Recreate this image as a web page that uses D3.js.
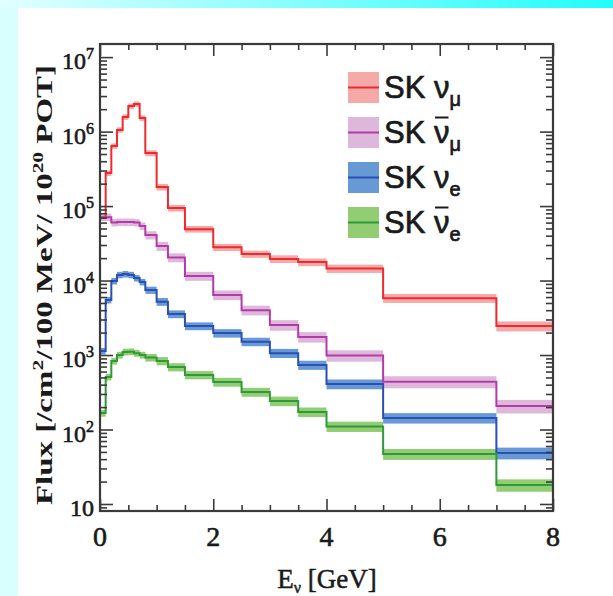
<!DOCTYPE html>
<html>
<head>
<meta charset="utf-8">
<script src="https://cdn.jsdelivr.net/npm/d3@7"></script>
<style>
  html, body { margin: 0; padding: 0; background: #ffffff; }
  svg { display: block; }
</style>
</head>
<body>
<svg id="chart" width="613" height="596"></svg>
<script>
// Bin edges of the SK flux prediction (GeV)
const binEdges = [0, 0.1, 0.2, 0.3, 0.4, 0.5, 0.6, 0.7, 0.8, 1.0, 1.2, 1.5, 2.0, 2.5, 3.0, 3.5, 4.0, 5.0, 7.0, 8.0];

// Flux per bin [/cm^2/100 MeV/10^20 POT]
const numu = [7.0e4, 2.77e5, 6.4e5, 1.05e6, 1.57e6, 2.2e6, 2.34e6, 1.52e6, 5.14e5, 1.8e5, 9.4e4, 4.9e4, 2.8e4, 2.27e4, 1.95e4, 1.77e4, 1.45e4, 5.8e3, 2.45e3];
const numubar = [7.1e4, 7.1e4, 6.0e4, 6.1e4, 6.1e4, 6.1e4, 6.0e4, 5.4e4, 4.08e4, 2.9e4, 2.04e4, 1.15e4, 6.4e3, 4.0e3, 2.53e3, 1.75e3, 985, 438, 207];
const nue = [1.13e3, 5.47e3, 9.85e3, 1.19e4, 1.22e4, 1.19e4, 1.08e4, 9.55e3, 7.45e3, 5.2e3, 3.55e3, 2.45e3, 1.97e3, 1.51e3, 1.06e3, 735, 408, 143, 48.4];
const nuebar = [166, 507, 832, 1000, 1100, 1110, 1060, 1000, 925, 832, 690, 540, 435, 319, 241, 172, 110, 46.9, 18];

// Fractional flux uncertainty per bin
const fracErr = [0.10, 0.10, 0.10, 0.10, 0.10, 0.10, 0.10, 0.10, 0.11, 0.12, 0.12, 0.12, 0.13, 0.13, 0.14, 0.14, 0.15, 0.16, 0.18];

const seriesNames = ["numu", "numubar", "nue", "nuebar"];
const seriesValues = [numu, numubar, nue, nuebar];
const errScale = [0.85, 1.15, 1.0, 1.05];
const lineColors = ["#ee2a2e", "#b43aaa", "#2b4fb2", "#2e9a3c"];
const bandColors = ["#f39a9a", "#d7abd3", "#4c88cc", "#7fc45c"];
const legendFlavour = ["μ", "μ", "e", "e"];
const legendBar = [false, true, false, true];

const xTicksMajor = [0, 2, 4, 6, 8];
const yExponents = [1, 2, 3, 4, 5, 6, 7];

const svg = d3.select("#chart");
const W = 613, H = 596;

// Page backdrop: pale cyan margin strips
const defs = svg.append("defs");
const grad = defs.append("linearGradient").attr("id", "topGrad")
  .attr("x1", "0%").attr("x2", "100%").attr("y1", "0%").attr("y2", "0%");
grad.append("stop").attr("offset", "0%").attr("stop-color", "#e2ffff");
grad.append("stop").attr("offset", "100%").attr("stop-color", "#22fcfc");
svg.append("rect").attr("x", 0).attr("y", 0).attr("width", W).attr("height", H).attr("fill", "#ffffff");
svg.append("rect").attr("x", 0).attr("y", 0).attr("width", 18).attr("height", H).attr("fill", "#d8fefe");
svg.append("rect").attr("x", 0).attr("y", 0).attr("width", W).attr("height", 8).attr("fill", "url(#topGrad)");

const plot = { left: 100, right: 553, top: 44, bottom: 511 };
const x = d3.scaleLinear().domain([0, 8]).range([plot.left, plot.right]);
const y = d3.scaleLog().domain([8.05, 1.5e7]).range([plot.bottom, plot.top]);

defs.append("clipPath").attr("id", "plotClip").append("rect")
  .attr("x", plot.left).attr("y", plot.top)
  .attr("width", plot.right - plot.left).attr("height", plot.bottom - plot.top);

const g = svg.append("g").attr("clip-path", "url(#plotClip)");

// Uncertainty bands and step histograms
seriesValues.forEach((vals, si) => {
  const bins = vals.map((v, i) => ({ x0: binEdges[i], x1: binEdges[i + 1], v, e: fracErr[i] * errScale[si] }));
  g.append("g").selectAll("rect").data(bins).join("rect")
    .attr("x", d => x(d.x0))
    .attr("width", d => x(d.x1) - x(d.x0))
    .attr("y", d => y(d.v * (1 + d.e)))
    .attr("height", d => y(d.v * (1 - d.e)) - y(d.v * (1 + d.e)))
    .attr("fill", bandColors[si])
    .attr("opacity", 0.85);
});
seriesValues.forEach((vals, si) => {
  const pts = vals.map((v, i) => [binEdges[i], v]);
  pts.push([binEdges[binEdges.length - 1], vals[vals.length - 1]]);
  const line = d3.line().x(d => x(d[0])).y(d => y(d[1])).curve(d3.curveStepAfter);
  g.append("path").attr("d", line(pts))
    .attr("fill", "none").attr("stroke", lineColors[si]).attr("stroke-width", 2);
});

// Axes frame and ticks
const axisColor = "#3a3a3a";
const axes = svg.append("g").attr("stroke", axisColor).attr("fill", "none");

const yMinor = [];
for (let e = 0; e <= 7; e++) {
  for (let m = 2; m <= 9; m++) {
    const v = m * Math.pow(10, e);
    if (v >= y.domain()[0] && v <= y.domain()[1]) yMinor.push(v);
  }
}
const yMajor = yExponents.map(e => Math.pow(10, e));
const xMinor = d3.range(0.5, 8, 0.5).filter(v => xTicksMajor.indexOf(v) < 0);

function tickAxis(axisGen, transform) {
  const a = svg.append("g").attr("transform", transform).call(axisGen);
  a.selectAll(".domain").remove();
  a.selectAll("text").remove();
  a.selectAll("line").attr("stroke", axisColor).attr("stroke-width", 1.6);
  return a;
}
tickAxis(d3.axisLeft(y).tickValues(yMajor).tickSize(-13), `translate(${plot.left},0)`);
tickAxis(d3.axisLeft(y).tickValues(yMinor).tickSize(-7), `translate(${plot.left},0)`);
tickAxis(d3.axisRight(y).tickValues(yMajor).tickSize(-13), `translate(${plot.right},0)`);
tickAxis(d3.axisRight(y).tickValues(yMinor).tickSize(-7), `translate(${plot.right},0)`);
tickAxis(d3.axisBottom(x).tickValues(xTicksMajor).tickSize(-12), `translate(0,${plot.bottom})`);
tickAxis(d3.axisBottom(x).tickValues(xMinor).tickSize(-6), `translate(0,${plot.bottom})`);
tickAxis(d3.axisTop(x).tickValues(xTicksMajor).tickSize(-12), `translate(0,${plot.top})`);
tickAxis(d3.axisTop(x).tickValues(xMinor).tickSize(-6), `translate(0,${plot.top})`);

axes.append("rect")
  .attr("x", plot.left).attr("y", plot.top)
  .attr("width", plot.right - plot.left).attr("height", plot.bottom - plot.top)
  .attr("stroke-width", 2.2);

// Tick labels
const serif = "'Liberation Serif', 'Times New Roman', serif";
const ink = "#1a1a1a";
const yLab = svg.append("g").attr("font-family", serif).attr("fill", ink)
  .attr("stroke", ink).attr("stroke-width", 0.6);
yExponents.forEach(e => {
  const t = yLab.append("text")
    .attr("x", 94).attr("y", y(Math.pow(10, e)) + 12)
    .attr("text-anchor", "end").attr("font-size", 24);
  if (e === 1) {
    t.text("10");
  } else {
    t.append("tspan").text("10");
    t.append("tspan").attr("dy", -10).attr("font-size", 16).text(String(e));
  }
});

svg.append("g").attr("font-family", serif).attr("fill", ink)
  .attr("stroke", ink).attr("stroke-width", 0.6)
  .selectAll("text").data(xTicksMajor).join("text")
  .attr("x", d => x(d)).attr("y", 546)
  .attr("text-anchor", "middle").attr("font-size", 28)
  .text(d => String(d));

// Axis titles
const xt = svg.append("text").attr("x", 327).attr("y", 588)
  .attr("text-anchor", "middle").attr("font-family", serif)
  .attr("font-size", 27).attr("fill", ink).attr("stroke", ink).attr("stroke-width", 0.5);
xt.append("tspan").text("E");
xt.append("tspan").attr("dy", 5).attr("font-size", 16).text("ν");
xt.append("tspan").attr("dy", -5).text(" [GeV]");

const yt = svg.append("text")
  .attr("transform", "translate(52,285) rotate(-90)")
  .attr("text-anchor", "middle").attr("font-family", serif)
  .attr("font-weight", "bold").attr("font-size", 23).attr("fill", ink)
  .attr("textLength", 440).attr("lengthAdjust", "spacingAndGlyphs");
yt.append("tspan").text("Flux [/cm");
yt.append("tspan").attr("dy", -9).attr("font-size", 15).text("2");
yt.append("tspan").attr("dy", 9).text("/100 MeV/ 10");
yt.append("tspan").attr("dy", -9).attr("font-size", 15).text("20");
yt.append("tspan").attr("dy", 9).text(" POT]");

// Legend
const sans = "'Liberation Sans', Arial, Helvetica, sans-serif";
const legend = svg.append("g");
seriesNames.forEach((name, i) => {
  const cy = 87.5 + i * 45;
  legend.append("rect").attr("x", 348).attr("y", cy - 15.5).attr("width", 31).attr("height", 31)
    .attr("fill", bandColors[i]).attr("opacity", 0.85);
  legend.append("line").attr("x1", 348).attr("x2", 379).attr("y1", cy).attr("y2", cy)
    .attr("stroke", lineColors[i]).attr("stroke-width", 2);
  const t = legend.append("text").attr("x", 384).attr("y", cy + 10)
    .attr("font-family", sans).attr("font-size", 31).attr("fill", ink)
    .attr("stroke", ink).attr("stroke-width", 0.7);
  t.append("tspan").text("SK ");
  t.append("tspan").text("ν");
  t.append("tspan").attr("dy", 8).attr("font-size", 20).text(legendFlavour[i]);
  if (legendBar[i]) {
    const node = t.node();
    const x0 = node.getStartPositionOfChar(3).x;
    const x1 = node.getEndPositionOfChar(3).x;
    legend.append("line").attr("x1", x0 + 1).attr("x2", x1 - 1)
      .attr("y1", cy - 15).attr("y2", cy - 15)
      .attr("stroke", ink).attr("stroke-width", 2);
  }
});
</script>
</body>
</html>
